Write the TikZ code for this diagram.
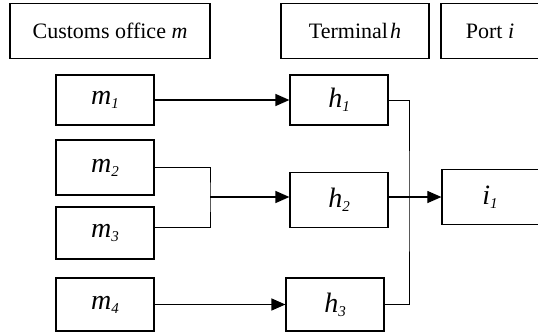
\documentclass[tikz,border=0pt]{standalone}
\usepackage{fontspec}
\setmainfont{Liberation Serif}
\usetikzlibrary{arrows.meta,calc}
\newcommand{\lab}[2]{{\fontsize{28}{30}\selectfont\itshape #1\raisebox{-4pt}{\fontsize{15}{16}\selectfont #2}}}
\begin{document}
\begin{tikzpicture}[x=1pt,y=-1pt,
  box/.style={draw, line width=1.2pt, inner sep=0pt, minimum width=98pt},
  hdr/.style={box, minimum height=55pt, font=\fontsize{22}{26}\selectfont},
  lbox/.style={box},
  conn/.style={line width=0.9pt},
  tip/.style={-{Triangle[length=14pt,width=12pt]}},
  arr/.style={line width=1.4pt, tip}]
\useasboundingbox (0,0) rectangle (538,333);
\clip (0,0) rectangle (538,333);
% header
\node[hdr, minimum width=200pt] (cust) at (110,31) {Customs office \textit{m}};
\node[hdr, minimum width=148pt] (term) at (355,31) {Terminal\hspace{2pt}\textit{h}};
\node[hdr, minimum width=102pt] (port) at (492,31) {\hspace{-4pt}Port \textit{i}};
% m column
\node[lbox, minimum height=50pt] (m1) at (105,100) {\lab{m}{1}};
\node[lbox, minimum height=55pt] (m2) at (105,167.5) {\lab{m}{2}};
\node[lbox, minimum height=52pt] (m3) at (105,233) {\lab{m}{3}};
\node[lbox, minimum height=53pt] (m4) at (105,304.5) {\lab{m}{4}};
% h column
\node[lbox, minimum height=50pt] (h1) at (339,100) {\lab{h}{1}};
\node[lbox, minimum height=55.5pt] (h2) at (339,200) {\lab{h}{2}};
\node[lbox, minimum height=53pt] (h3) at (335,304.5) {\lab{h}{3}};
% port
\node[lbox, minimum width=100pt, minimum height=55pt] (i1) at (492,197) {\hspace{-4pt}\lab{i}{1}};
% connectors
\draw[arr] (m1.east) -- (m1.east -| h1.west);
\draw[arr] (m4.east) -- (m4.east -| h3.west);
\coordinate (bj) at (210,197);
\coordinate (m3c) at ($(m3.north east)!0.4!(m3.south east)$);
\draw[conn] (m2.east) -| (bj) |- (m3c);
\draw[arr] (bj) -- (bj -| h2.west);
\coordinate (vx) at (409,200);
\draw[conn] (h1.east) -| (vx) |- (h3.east);
\draw[conn, line width=1.1pt, tip] (h2.east |- i1.west) -- (i1.west);
\end{tikzpicture}
\end{document}
